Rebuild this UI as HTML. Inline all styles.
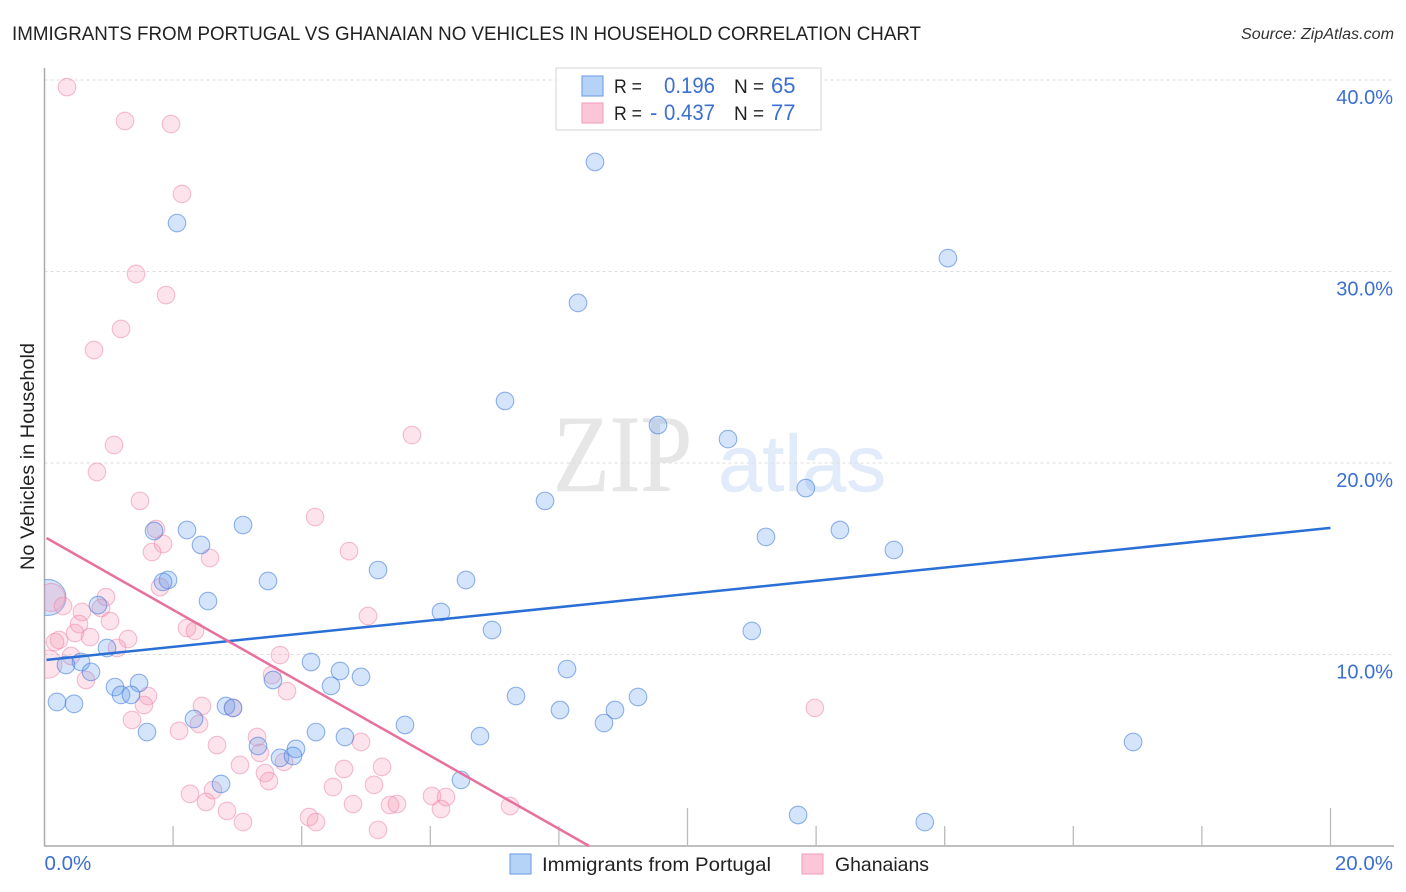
<!DOCTYPE html>
<html lang="en">
<head>
<meta charset="utf-8">
<title>Immigrants from Portugal vs Ghanaian No Vehicles in Household Correlation Chart</title>
<style>
html,body{margin:0;padding:0;background:#fff;}
svg{display:block;font-family:"Liberation Sans",sans-serif;}
</style>
</head>
<body>
<svg id="chart" width="1406" height="892" viewBox="0 0 1406 892" xmlns="http://www.w3.org/2000/svg">
  <defs>
    <clipPath id="plot-clip"><rect x="44.5" y="60" width="1350" height="786"/></clipPath>
  </defs>
  <text x="12" y="40" font-size="19.5" fill="#222" textLength="909" lengthAdjust="spacingAndGlyphs">IMMIGRANTS FROM PORTUGAL VS GHANAIAN NO VEHICLES IN HOUSEHOLD CORRELATION CHART</text>
  <text x="1241" y="39" font-size="15.5" font-style="italic" fill="#333" textLength="153" lengthAdjust="spacingAndGlyphs">Source: ZipAtlas.com</text>
  <text x="553" y="491" font-family="'Liberation Serif',serif" font-size="110" fill="#e6e6e6" stroke="#e6e6e6" stroke-width="0.6" textLength="139" lengthAdjust="spacingAndGlyphs">ZIP</text>
  <text x="718" y="491" font-size="80" fill="#e2ebf9" stroke="#e2ebf9" stroke-width="0.5" textLength="168" lengthAdjust="spacingAndGlyphs">atlas</text>
  <g id="grid"></g>
  <g id="axes"></g>
  <g id="points" clip-path="url(#plot-clip)"></g>
  <g id="trends"></g>
  <text transform="translate(34,456.5) rotate(-90)" text-anchor="middle" font-size="19" fill="#222" textLength="227" lengthAdjust="spacingAndGlyphs">No Vehicles in Household</text>

  <g>
    <rect x="556" y="68" width="265" height="62" fill="#fff" stroke="#ddd" stroke-width="1.2"/>
    <rect x="582" y="76" width="21" height="20" fill="#b5d2f7" stroke="#7aa5e5" stroke-width="1.2"/>
    <rect x="582" y="103" width="21" height="20" fill="#fdc5d8" stroke="#f2a8c2" stroke-width="1.2"/>
    <text x="614" y="93" font-size="19" fill="#222" textLength="28" lengthAdjust="spacingAndGlyphs">R =</text>
    <text x="664" y="93" font-size="22" fill="#3b6fd1" textLength="51" lengthAdjust="spacingAndGlyphs">0.196</text>
    <text x="734" y="93" font-size="19" fill="#222">N =</text>
    <text x="771" y="93" font-size="22" fill="#3b6fd1">65</text>
    <text x="614" y="120" font-size="19" fill="#222" textLength="28" lengthAdjust="spacingAndGlyphs">R =</text>
    <text x="650" y="120" font-size="22" fill="#3b6fd1">-<tspan x="664" textLength="51" lengthAdjust="spacingAndGlyphs">0.437</tspan></text>
    <text x="734" y="120" font-size="19" fill="#222">N =</text>
    <text x="771" y="120" font-size="22" fill="#3b6fd1">77</text>
  </g>

  <g>
    <g>
      <rect x="510" y="854" width="21" height="20" fill="#b5d2f7" stroke="#7aa5e5" stroke-width="1.2"/>
      <text x="542" y="871" font-size="19.5" fill="#222" textLength="229" lengthAdjust="spacingAndGlyphs">Immigrants from Portugal</text>
    </g>
    <g>
      <rect x="802" y="854" width="21" height="20" fill="#fdc5d8" stroke="#f2a8c2" stroke-width="1.2"/>
      <text x="835" y="871" font-size="19.5" fill="#222" textLength="94" lengthAdjust="spacingAndGlyphs">Ghanaians</text>
    </g>
  </g>
</svg>
<script>
const yTickValues = [10, 20, 30, 40];
const yTickLabels = ["10.0%", "20.0%", "30.0%", "40.0%"];
const xTickValues = [2, 4, 6, 8, 10, 12, 14, 16, 18, 20];
const xMajorTicks = [10, 20];
const xEdgeValues = [0, 20];
const xEdgeLabels = ["0.0%", "20.0%"];

const blueX = [8.561,2.061,14.05,8.297,7.162,9.541,10.63,11.84,7.784,3.087,2.216,1.703,12.37,11.22,2.434,13.21,5.187,3.476,1.921,1.843,6.555,2.543,0.832,6.166,6.960,11.00,0.972,0.568,0.334,0.723,4.145,4.596,8.126,4.922,3.554,4.456,1.470,1.096,1.190,1.345,0.194,0.459,7.333,9.230,2.823,2.932,8.017,8.872,2.325,5.606,8.701,1.594,4.222,4.673,6.773,16.93,3.320,3.911,3.663,3.865,6.477,2.745,11.72,13.69];
const blueY = [35.72,32.53,30.70,28.36,23.24,21.98,21.25,18.69,18.02,16.76,16.50,16.45,16.50,16.14,15.72,15.46,14.41,13.84,13.89,13.79,13.89,12.79,12.58,12.22,11.28,11.23,10.34,9.61,9.45,9.09,9.61,9.14,9.24,8.83,8.67,8.36,8.51,8.30,7.89,7.89,7.52,7.42,7.83,7.78,7.31,7.21,7.10,7.10,6.63,6.32,6.42,5.95,5.95,5.69,5.74,5.43,5.22,5.07,4.60,4.70,3.45,3.24,1.62,1.25];
const blueLargeX = [0.054];
const blueLargeY = [12.98];

const pinkX = [0.350,1.252,1.967,2.138,1.423,1.890,1.190,0.770,5.715,1.081,0.816,1.485,4.207,1.734,1.672,1.843,4.736,2.574,1.796,5.031,0.956,0.288,0.583,0.879,1.019,0.537,2.216,2.341,0.474,0.708,1.299,0.226,0.163,1.128,3.663,0.412,0.645,3.538,3.771,1.610,1.547,2.449,1.361,2.932,2.403,2.092,2.683,11.98,3.305,3.351,3.725,4.922,3.040,3.429,3.491,4.658,5.249,4.487,5.124,4.798,5.373,5.482,6.026,6.244,6.166,7.240,5.187,2.263,2.621,2.512,2.838,3.087,4.114,4.222];
const pinkY = [39.63,37.86,37.70,34.05,29.87,28.77,27.00,25.90,21.46,20.94,19.53,18.02,17.18,16.55,15.35,15.77,15.40,15.04,13.52,12.01,13.00,12.53,12.22,12.43,11.75,11.59,11.38,11.23,11.12,10.91,10.81,10.76,10.65,10.34,9.97,9.92,8.67,8.93,8.09,7.83,7.36,7.31,6.58,7.21,6.37,6.01,5.27,7.21,5.69,4.86,4.39,5.43,4.23,3.81,3.39,4.02,4.13,3.08,3.19,2.19,2.14,2.19,2.61,2.56,1.93,2.09,0.84,2.72,2.92,2.30,1.83,1.25,1.51,1.25];
const pinkLargeX = [0.10, 0.054];
const pinkLargeY = [12.98, 9.50];

const blueTrendX = [0, 20];
const blueTrendY = [9.71, 16.61];
const pinkTrendX = [0, 8.47];
const pinkTrendY = [16.14, 0];

const NS = "http://www.w3.org/2000/svg";
function xScale(v) { return 44.5 + v * 64.3; }
function yScale(v) { return 846 - v * 19.15; }
function make(tag, attrs, parent) {
  const el = document.createElementNS(NS, tag);
  for (const k in attrs) el.setAttribute(k, attrs[k]);
  parent.appendChild(el);
  return el;
}
const gridG = document.getElementById("grid");
const axesG = document.getElementById("axes");
const pointsG = document.getElementById("points");
const trendsG = document.getElementById("trends");

yTickValues.forEach(function (v, i) {
  const line = make("line", {x1: 44.5, x2: 1394, y1: yScale(v), y2: yScale(v), stroke: "#dcdcdc", "stroke-width": 1, "stroke-dasharray": "3 3"}, gridG);
  
  
  const label = make("text", {x: 1393, y: yScale(v) + 24, "text-anchor": "end", "font-size": 20, fill: "#3b6fd1"}, axesG);
  label.textContent = yTickLabels[i];
  
  
});

const yAxisLine = make("line", {x1: 44.5, x2: 44.5, y1: 68, y2: 846, stroke: "#aaa", "stroke-width": 1.5}, axesG);


const xAxisLine = make("line", {x1: 44, x2: 1394, y1: 846, y2: 846, stroke: "#aaa", "stroke-width": 1.5}, axesG);



xTickValues.forEach(function (v) {
  const top = xMajorTicks.indexOf(v) >= 0 ? 808 : 826;
  const tick = make("line", {x1: xScale(v), x2: xScale(v), y1: top, y2: 846, stroke: "#bbb", "stroke-width": 1.3}, axesG);
  
  
});

xEdgeValues.forEach(function (v, i) {
  const label = make("text", {x: i === 0 ? xScale(v) : 1393, y: 870, "text-anchor": i === 0 ? "start" : "end", "font-size": 20.5, fill: "#3b6fd1"}, axesG);
  label.textContent = xEdgeLabels[i];
  
  
});

function drawPoints(xs, ys, r, fill, stroke, name) {
  xs.forEach(function (v, i) {
    const c = make("circle", {cx: xScale(v), cy: yScale(ys[i]), r: r, fill: fill, stroke: stroke, "stroke-width": 1.1}, pointsG);
    
    
  });
}
const pinkFill = "rgba(246,150,182,0.27)";
const pinkStroke = "rgba(236,130,165,0.5)";
const blueFill = "rgba(100,158,236,0.28)";
const blueStroke = "rgba(60,120,220,0.55)";
drawPoints(blueLargeX, blueLargeY, 18, blueFill, blueStroke, "point-portugal-large");
drawPoints(pinkLargeX, pinkLargeY, 14, pinkFill, pinkStroke, "point-ghanaians-large");
drawPoints(pinkX, pinkY, 8.8, pinkFill, pinkStroke, "point-ghanaians");
drawPoints(blueX, blueY, 8.8, blueFill, blueStroke, "point-portugal");

const blueTrend = make("line", {x1: xScale(blueTrendX[0]) + 2, y1: yScale(blueTrendY[0]) - 0.2, x2: xScale(blueTrendX[1]), y2: yScale(blueTrendY[1]), stroke: "#2a6fd6", "stroke-width": 2.5}, trendsG);


const pinkTrend = make("line", {x1: xScale(pinkTrendX[0]) + 2, y1: yScale(pinkTrendY[0]) + 1.1, x2: xScale(pinkTrendX[1]), y2: yScale(pinkTrendY[1]), stroke: "#e8709c", "stroke-width": 2.5}, trendsG);


</script>
</body>
</html>
